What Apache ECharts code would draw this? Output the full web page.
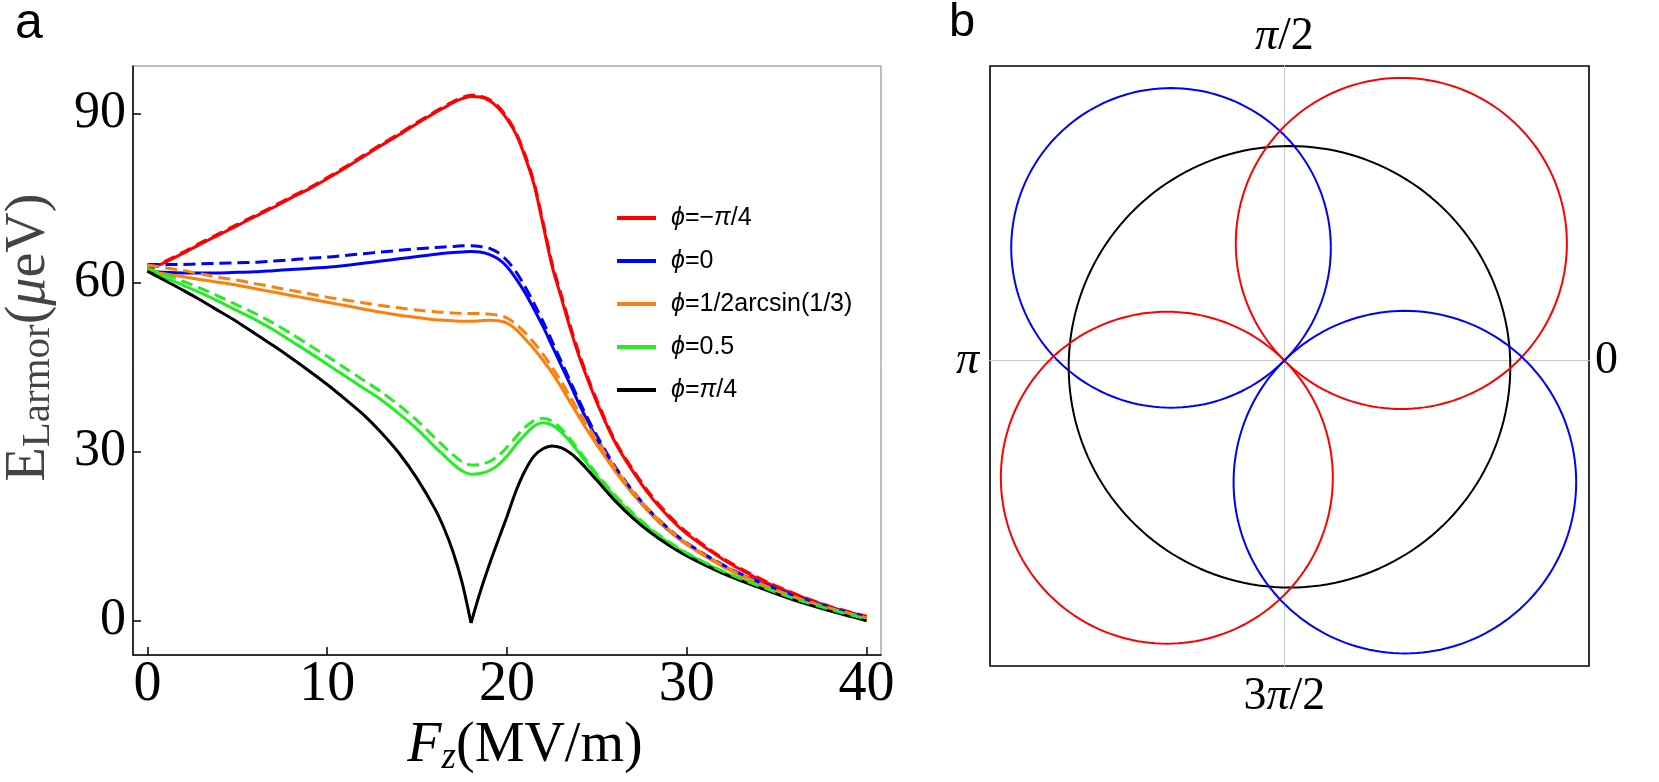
<!DOCTYPE html>
<html>
<head>
<meta charset="utf-8">
<script src="https://cdn.jsdelivr.net/npm/echarts@6/dist/echarts.min.js"></script>
<style>
html,body{margin:0;padding:0;background:#fff;}
#chart{width:1659px;height:782px;}
</style>
</head>
<body>
<div id="chart"></div>
<script>
// ---------- Panel a data ----------
const fz = [0,1,2,3,4,5,6,7,8,9,10,11,12,13,14,15,16,16.5,17,17.5,18,18.5,19,19.5,20,20.5,21,21.5,22,22.5,23,23.5,24,24.5,25,26,27,28,29,30,32,34,36,38,40];

const redSolid = [62.2,63.6,65.2,66.9,68.5,70.1,71.7,73.3,75.0,76.6,78.4,80.3,82.3,84.3,86.2,88.2,90.1,
  91.0,91.9,92.6,93.0,92.9,92.3,91.0,89.0,86.3,82.3,77.4,70.3,63.0,57.5,52.0,47.0,42.7,38.7,
  31.7,26.5,22.0,18.4,15.4,10.9,7.4,4.7,2.4,0.7];
const redDashed = [62.4,63.8,65.4,67.1,68.7,70.3,71.9,73.5,75.2,76.8,78.6,80.5,82.5,84.5,86.4,88.4,90.3,
  91.2,92.1,92.8,93.2,93.1,92.5,91.3,89.3,86.6,82.7,77.8,70.8,63.5,58.0,52.5,47.5,43.1,39.1,
  32.0,26.8,22.3,18.7,15.7,11.1,7.6,4.8,2.5,0.8];
const blueSolid = [62.0,61.8,61.7,61.7,61.7,61.8,61.9,62.1,62.3,62.5,62.7,63.0,63.4,63.8,64.2,64.6,65.0,
  65.2,65.3,65.4,65.5,65.4,65.0,64.2,62.8,60.7,58.2,55.3,52.2,48.8,45.4,42.0,38.5,35.3,32.3,
  27.0,22.6,19.0,16.0,13.6,9.8,6.8,4.3,2.2,0.6];
const blueDashed = [63.2,63.2,63.2,63.3,63.4,63.5,63.6,63.8,64.0,64.3,64.5,64.8,65.1,65.4,65.7,66.0,66.2,
  66.3,66.4,66.5,66.5,66.4,66.1,65.3,63.9,61.9,59.3,56.3,53.1,49.6,46.1,42.6,39.1,35.8,32.8,
  27.4,23.0,19.3,16.3,13.8,9.9,6.9,4.4,2.3,0.6];
const orangeSolid = [62.0,61.5,61.0,60.5,60.0,59.5,58.9,58.3,57.7,57.1,56.5,55.9,55.3,54.7,54.2,53.8,53.4,
  53.3,53.2,53.1,53.1,53.2,53.3,53.2,52.8,51.7,50.0,48.2,46.2,44.0,41.5,38.8,36.2,33.6,31.2,
  26.6,22.5,19.0,16.0,13.5,9.6,6.6,4.1,2.1,0.4];
const orangeDashed = [63.1,62.6,62.1,61.5,60.9,60.4,59.8,59.2,58.6,58.0,57.4,56.9,56.4,55.9,55.5,55.1,54.8,
  54.7,54.6,54.5,54.5,54.5,54.4,54.2,53.7,52.6,51.1,49.3,47.3,45.0,42.5,39.8,37.1,34.5,32.0,
  27.1,22.9,19.3,16.2,13.7,9.8,6.7,4.2,2.2,0.5];
const greenSolid = [62.0,60.8,59.5,58.1,56.6,55.0,53.4,51.6,49.6,47.6,45.5,43.4,41.3,39.2,36.7,34.0,30.8,
  29.3,27.8,26.6,26.0,26.1,26.6,27.6,29.2,31.2,33.0,34.5,35.1,34.7,33.5,31.8,29.8,27.7,25.6,
  22.0,18.8,16.1,13.8,11.9,8.7,6.1,3.8,1.9,0.2];
const greenDashed = [62.5,61.4,60.2,58.9,57.5,56.0,54.5,52.8,50.9,48.9,46.9,44.8,42.7,40.6,38.2,35.5,32.4,
  30.9,29.4,28.2,27.6,27.7,28.2,29.2,30.8,32.6,34.3,35.5,35.9,35.4,34.1,32.3,30.2,28.1,26.0,
  22.3,19.1,16.3,14.0,12.0,8.8,6.2,3.9,2.0,0.3];
const blackSolid = [62.0,60.3,58.6,56.8,54.9,53.0,50.9,48.8,46.6,44.3,41.9,39.3,36.6,33.4,29.7,25.2,19.8,
  16.4,12.2,6.8,-0.4,5.0,9.8,14.2,18.5,23.0,26.6,29.2,30.5,31.0,30.7,29.8,28.4,26.7,24.9,
  21.3,18.2,15.6,13.4,11.5,8.4,5.9,3.6,1.7,0.0];
const blackCuspFz = 18;   // position of the cusp (zero crossing) of the black curve

const legendNames = ['ϕ=−π/4','ϕ=0','ϕ=1/2arcsin(1/3)','ϕ=0.5','ϕ=π/4'];
const xTicks = [0,10,20,30,40];
const yTicks = [0,30,60,90];

// ---------- Panel b data (polar lobes, in units of the black circle radius) ----------
const lobeCx = [0.023, -0.513, 0.529, -0.532, 0.545];
const lobeCy = [-0.028, 0.510, 0.530, -0.530, -0.550];
const lobeR  = [0.999, 0.723, 0.749, 0.751, 0.775];
const lobeKind = ['black','blue','red','red','blue'];
const angleLabels = ['0','π/2','π','3π/2'];

// ---------- styles ----------
const COL = {red:'#ff0000', blue:'#0000ff', orange:'#ff7f0e', green:'#22ee22', black:'#000000'};
const serif = 'Liberation Serif';
const sans = 'Liberation Sans';

function pairs(ys){ return fz.map((x,i)=>[x, ys[i]]); }
function circlePts(k){
  const pts=[];
  for(let a=0;a<=360;a+=2){
    const t=a*Math.PI/180;
    pts.push([lobeCx[k]+lobeR[k]*Math.cos(t), lobeCy[k]+lobeR[k]*Math.sin(t)]);
  }
  return pts;
}
function mathRich(s){ return s.replace(/π/g,'{i|π}'); }

const solidDefs = [
  [legendNames[0], redSolid, COL.red],
  [legendNames[1], blueSolid, COL.blue],
  [legendNames[2], orangeSolid, COL.orange],
  [legendNames[3], greenSolid, COL.green]
];
const dashedDefs = [
  ['red dashed', redDashed, COL.red],
  ['blue dashed', blueDashed, COL.blue],
  ['orange dashed', orangeDashed, COL.orange],
  ['green dashed', greenDashed, COL.green]
];

const series = [];
solidDefs.forEach(([n,d,c])=>series.push({
  name:n, type:'line', xAxisIndex:0, yAxisIndex:0, data:pairs(d), showSymbol:false, smooth:0.3,
  color:c, lineStyle:{color:c, width:3}, itemStyle:{color:c}, z:3
}));
// black curve: drawn as two branches meeting at the cusp so the V stays sharp
const blackPairs = pairs(blackSolid);
const cuspIdx = fz.indexOf(blackCuspFz);
[blackPairs.slice(0, cuspIdx+1), blackPairs.slice(cuspIdx)].forEach(d=>series.push({
  name:legendNames[4], type:'line', xAxisIndex:0, yAxisIndex:0, data:d, showSymbol:false, smooth:0.3,
  color:COL.black, lineStyle:{color:COL.black, width:3}, itemStyle:{color:COL.black}, z:3
}));
dashedDefs.forEach(([n,d,c])=>series.push({
  name:n, type:'line', xAxisIndex:0, yAxisIndex:0, data:pairs(d), showSymbol:false, smooth:0.3,
  color:c, lineStyle:{color:c, width:3, type:[12,6]}, itemStyle:{color:c}, z:4
}));
lobeCx.forEach((_,k)=>series.push({
  name:'lobe'+k, type:'line', xAxisIndex:1, yAxisIndex:1, data:circlePts(k), showSymbol:false,
  lineStyle:{color:COL[lobeKind[k]], width:2}, itemStyle:{color:COL[lobeKind[k]]}, z:3
}));

const bAxisBase = {
  gridIndex:1, type:'value', axisTick:{show:false}, axisLabel:{show:false}, splitLine:{show:false},
  axisLine:{show:true, onZero:true, lineStyle:{color:'#c8c8c8', width:1}},
  nameTextStyle:{fontFamily:serif, fontSize:46, color:'#000', rich:{i:{fontFamily:serif, fontStyle:'italic', fontSize:46, color:'#000'}}}
};

const option = {
  animation:false,
  backgroundColor:'#fff',
  title:[
    {text:'a', left:10, top:-6, textStyle:{fontFamily:sans, fontSize:50, fontWeight:'normal', color:'#000'}},
    {text:'b', left:944, top:-5, textStyle:{fontFamily:sans, fontSize:47, fontWeight:'normal', color:'#000'}}
  ],
  legend:{
    orient:'vertical', left:612, top:198, itemWidth:39, itemHeight:4, itemGap:13, icon:'rect',
    data:legendNames, selectedMode:false,
    formatter:(n)=>n.replace('ϕ','{i|ϕ}').replace('π','{i|π}'),
    textStyle:{fontFamily:sans, fontSize:25, lineHeight:30, color:'#000', padding:[0,0,0,10],
      rich:{i:{fontFamily:sans, fontStyle:'italic', fontSize:25, lineHeight:30, color:'#000'}}}
  },
  grid:[
    {left:132, top:66, width:749, height:600, show:true, borderColor:'#808080', borderWidth:1, backgroundColor:'transparent'},
    {left:990, top:66, width:599, height:600, show:true, borderColor:'#000', borderWidth:1.6, backgroundColor:'transparent'}
  ],
  xAxis:[
    {gridIndex:0, type:'value', min:-0.8, max:40.8,
      axisLine:{show:true, onZero:false, lineStyle:{color:'#000', width:1.5}},
      axisTick:{show:true, inside:true, length:8, customValues:xTicks, lineStyle:{color:'#000', width:1.5}},
      axisLabel:{customValues:xTicks, margin:2, fontFamily:serif, fontSize:56, color:'#000'},
      splitLine:{show:false},
      name:'{f|F}{z|z}{n|(MV/m)}', nameLocation:'middle', nameGap:52,
      nameTextStyle:{padding:[0,0,0,36], rich:{
        f:{fontFamily:serif, fontStyle:'italic', fontSize:56, lineHeight:62, color:'#000'},
        z:{fontFamily:serif, fontStyle:'italic', fontSize:37, lineHeight:37, verticalAlign:'bottom', color:'#000'},
        n:{fontFamily:serif, fontSize:56, lineHeight:62, color:'#000'}}}
    },
    Object.assign({}, bAxisBase, {min:-1.332, max:1.378, name:'0', nameLocation:'end', nameGap:6}),
    Object.assign({}, bAxisBase, {min:-1.332, max:1.378, name:mathRich(angleLabels[2]), nameLocation:'start', nameGap:11})
  ],
  yAxis:[
    {gridIndex:0, type:'value', min:-6.1, max:98.4,
      axisLine:{show:true, onZero:false, lineStyle:{color:'#000', width:1.5}},
      axisTick:{show:true, inside:true, length:8, customValues:yTicks, lineStyle:{color:'#000', width:1.5}},
      axisLabel:{customValues:yTicks, margin:7, fontFamily:serif, fontSize:52, color:'#000'},
      splitLine:{show:false},
      name:'{e|E}{s|Larmor}{e|(}{m|μ}{e|eV)}', nameLocation:'middle', nameGap:74,
      nameTextStyle:{padding:[0,0,0,46], rich:{
        e:{fontFamily:serif, fontSize:56, lineHeight:60, color:'#444'},
        m:{fontFamily:serif, fontStyle:'italic', fontSize:56, lineHeight:60, color:'#444'},
        s:{fontFamily:serif, fontSize:41, lineHeight:41, verticalAlign:'bottom', color:'#444'}}}
    },
    Object.assign({}, bAxisBase, {min:-1.382, max:1.333, name:mathRich(angleLabels[1]), nameLocation:'end', nameGap:6}),
    Object.assign({}, bAxisBase, {min:-1.382, max:1.333, name:mathRich(angleLabels[3]), nameLocation:'start', nameGap:8})
  ],
  series:series
};

const chart = echarts.init(document.getElementById('chart'), null, {renderer:'canvas'});
chart.setOption(option);
</script>
</body>
</html>
